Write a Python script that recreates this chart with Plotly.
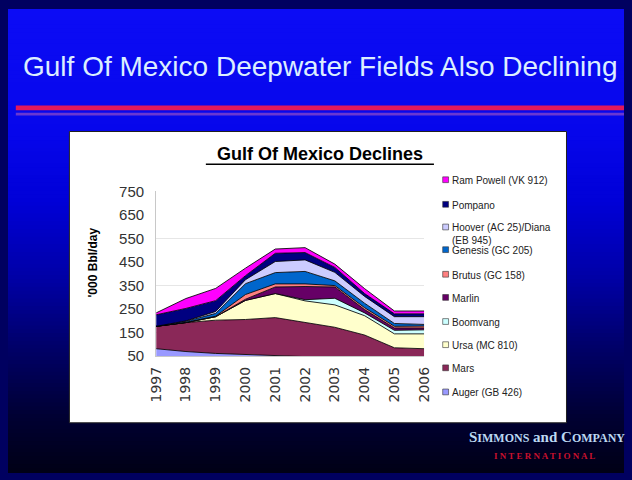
import plotly.graph_objects as go

W, H = 632, 480

years = [1997, 1998, 1999, 2000, 2001, 2002, 2003, 2004, 2005, 2006]

# series values ('000 Bbl/day), bottom of the stack first
auger     = [82, 70, 62, 58, 52, 48, 45, 40, 35, 35]
mars      = [95, 123, 141, 148, 162, 147, 128, 100, 51, 47]
ursa      = [0, 0, 15, 81, 102, 90, 95, 82, 59, 63]
boomvang  = [0, 0, 0, 0, 0, 5, 28, 12, 15, 17]
marlin    = [0, 0, 0, 5, 28, 56, 48, 14, 10, 8]
brutus    = [0, 1, 2, 20, 13, 11, 6, 8, 7, 8]
genesis   = [0, 4, 12, 46, 48, 53, 20, 19, 12, 7]
hoover    = [0, 2, 8, 17, 47, 49, 36, 29, 29, 33]
pompano   = [49, 53, 46, 17, 35, 31, 21, 12, 12, 12]
ram_powell = [8, 42, 52, 32, 18, 21, 14, 21, 12, 12]

series_names = ["Auger (GB 426)", "Mars", "Ursa (MC 810)", "Boomvang", "Marlin",
                "Brutus (GC 158)", "Genesis (GC 205)", "Hoover (AC 25)/Diana<br>(EB 945)",
                "Pompano", "Ram Powell (VK 912)"]
series_values = [auger, mars, ursa, boomvang, marlin, brutus, genesis, hoover, pompano, ram_powell]
series_colors = ["#9999FF", "#8A2858", "#FFFFCC", "#CCFFFF", "#660066",
                 "#FF8080", "#0066CC", "#CCCCFF", "#000080", "#FF00FF"]

y_ticks = [50, 150, 250, 350, 450, 550, 650, 750]
y_grid = [150, 350, 550, 750]

def px(x):
    return x / W

def py(y):
    return 1 - y / H

fig = go.Figure()
for name, vals, col in zip(series_names, series_values, series_colors):
    fig.add_trace(go.Scatter(
        x=years, y=vals, name=name.replace("<br>", " "), stackgroup="one", mode="lines",
        line=dict(color="rgba(0,0,0,0.85)", width=1), fillcolor=col, showlegend=False))

shapes = []
# slide background gradient
stops = [(0, (12, 12, 245)), (130, (6, 6, 235)), (200, (0, 0, 215)), (280, (0, 0, 165)),
         (350, (0, 0, 105)), (420, (0, 0, 52)), (480, (0, 0, 22))]
def grad(y):
    for (y0, c0), (y1, c1) in zip(stops[:-1], stops[1:]):
        if y0 <= y <= y1:
            t = (y - y0) / (y1 - y0)
            return tuple(int(round(a + (b - a) * t)) for a, b in zip(c0, c1))
    return stops[-1][1]
step = 4
for y in range(0, H, step):
    r, g, b = grad(y + step / 2)
    shapes.append(dict(type="rect", xref="paper", yref="paper", x0=0, x1=1,
                       y0=py(y + step + 1), y1=py(y), fillcolor=f"rgb({r},{g},{b})",
                       line=dict(width=0), layer="below"))
# decorative lines under title
shapes.append(dict(type="rect", xref="paper", yref="paper", x0=px(8), x1=1, y0=py(105), y1=py(100),
                   fillcolor="#E2185A", line=dict(width=0), layer="below"))
shapes.append(dict(type="rect", xref="paper", yref="paper", x0=px(8), x1=1, y0=py(110.5), y1=py(107.5),
                   fillcolor="#6A38D0", line=dict(width=0), layer="below"))
# white chart box
shapes.append(dict(type="rect", xref="paper", yref="paper", x0=px(63), x1=px(573), y0=py(429), y1=py(127),
                   fillcolor="white", line=dict(color="#202020", width=1), layer="below"))
# chart title underline
shapes.append(dict(type="line", xref="paper", yref="paper", x0=px(203), x1=px(437), y0=py(161), y1=py(161),
                   line=dict(color="black", width=1.5)))

annotations = []
annotations.append(dict(text="Gulf Of Mexico Deepwater Fields Also Declining", x=px(13), y=py(60),
                        xref="paper", yref="paper", xanchor="left", yanchor="middle", showarrow=False,
                        font=dict(family="Liberation Sans", size=28, color="#DCEEFF")))
annotations.append(dict(text="<b>Gulf Of Mexico Declines</b>", x=px(320), y=py(150),
                        xref="paper", yref="paper", xanchor="center", yanchor="middle", showarrow=False,
                        font=dict(family="Liberation Sans", size=18, color="black")))
annotations.append(dict(text="<b>'000 Bbl/day</b>", x=px(87), y=py(263), textangle=-90,
                        xref="paper", yref="paper", xanchor="center", yanchor="middle", showarrow=False,
                        font=dict(family="Liberation Sans", size=12, color="black")))

# legend (top series first)
leg_y = [177, 202.5, 226, 249.5, 275, 299, 324, 348, 372, 397]
for yc, name, col in zip(leg_y, series_names[::-1], series_colors[::-1]):
    shapes.append(dict(type="rect", xref="paper", yref="paper", x0=px(446), x1=px(452),
                       y0=py(yc + 3), y1=py(yc - 3), fillcolor=col, line=dict(color="#333", width=0.6)))
    annotations.append(dict(text=name, x=px(453), y=py(yc - 7), xref="paper", yref="paper",
                            xanchor="left", yanchor="top", showarrow=False, align="left",
                            font=dict(family="Liberation Sans", size=10, color="#222")))

# logo
annotations.append(dict(
    text="<b>S<span style='font-size:12px'>IMMONS</span> and C<span style='font-size:12px'>OMPANY</span></b>",
    x=px(553), y=py(444), xref="paper", yref="paper", xanchor="center", yanchor="middle", showarrow=False,
    font=dict(family="Liberation Serif", size=15, color="#BCD8F2")))
annotations.append(dict(text="<b>I N T E R N A T I O N A L</b>", x=px(550), y=py(463), xref="paper", yref="paper",
                        xanchor="center", yanchor="middle", showarrow=False,
                        font=dict(family="Liberation Serif", size=9, color="#C8102E")))

fig.update_layout(
    width=W, height=H, margin=dict(l=0, r=0, t=0, b=0),
    paper_bgcolor="#000060", plot_bgcolor="rgba(0,0,0,0)",
    shapes=shapes, annotations=annotations, showlegend=False,
    xaxis=dict(domain=[px(152), px(427)], range=[1997, 2006], tickmode="array", tickvals=years,
               ticktext=[str(y) for y in years], tickangle=-90, showgrid=False, zeroline=False,
               showline=True, linecolor="#C8C8C8", linewidth=1, ticks="", ticklabelstandoff=4,
               tickfont=dict(family="DejaVu Sans", size=14, color="#333")),
    yaxis=dict(domain=[py(360), py(189)], range=[50, 750], tickmode="array", tickvals=y_ticks,
               showgrid=False, zeroline=False, showline=True, linecolor="#C8C8C8", linewidth=1,
               ticks="", ticklabelstandoff=8,
               minor=dict(tickmode="array", tickvals=y_grid, showgrid=True, gridcolor="#E6E6E6", gridwidth=1),
               tickfont=dict(family="Liberation Sans", size=15, color="#333")),
)

fig.write_html("out.html")
